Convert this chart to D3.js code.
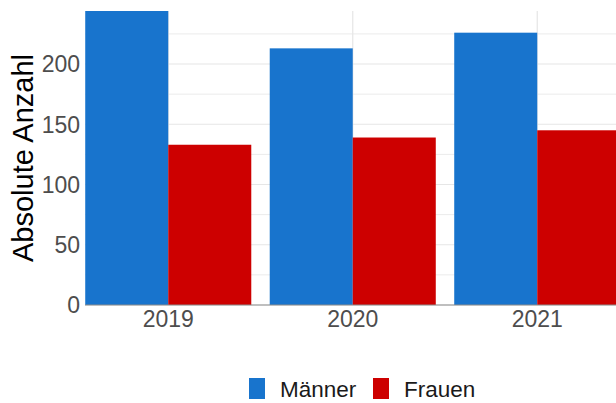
<!DOCTYPE html>
<html>
<head>
<meta charset="utf-8">
<script src="https://cdn.jsdelivr.net/npm/d3@7"></script>
<style>
  body { margin: 0; background: #fff; }
  svg { display: block; font-family: "Liberation Sans", Arial, sans-serif; }
</style>
</head>
<body>
<figure style="margin:0"></figure>
<script>
  // data
  const years = ["2019", "2020", "2021"]
  const groups = ["Männer", "Frauen"]
  const maenner = [244, 213, 226]
  const frauen = [133, 139, 145]
  const yTicks = [0, 50, 100, 150, 200]
  const yMinor = [25, 75, 125, 175, 225]
  const colors = ["#1874CD", "#CD0000"]

  const svgWidth = 616
  const svgHeight = 403

  const panel = { left: 85, right: 616, top: 11, bottom: 305 }

  const svg = d3.select('figure')
    .append('svg')
    .attr('width', svgWidth)
    .attr('height', svgHeight)

  const data = years.map((y, i) => ({ year: y, values: [maenner[i], frauen[i]] }))

  ////////// scales //////////
  const x = d3.scaleBand()
    .domain(years)
    .range([76, 629.5])
    .paddingInner(0.1)
    .paddingOuter(0.05)

  const xSub = d3.scaleBand()
    .domain(groups)
    .range([0, x.bandwidth()])

  const y = d3.scaleLinear()
    .domain([0, d3.max(maenner)])
    .range([panel.bottom, panel.top])

  const color = d3.scaleOrdinal().domain(groups).range(colors)

  ////////// grid //////////
  const grid = svg.append('g')
  grid.selectAll('.minor')
    .data(yMinor)
    .enter().append('line')
    .attr('x1', panel.left).attr('x2', panel.right)
    .attr('y1', d => y(d)).attr('y2', d => y(d))
    .attr('stroke', '#ebebeb').attr('stroke-width', 1)
  grid.selectAll('.major')
    .data(yTicks)
    .enter().append('line')
    .attr('x1', panel.left).attr('x2', panel.right)
    .attr('y1', d => y(d)).attr('y2', d => y(d))
    .attr('stroke', '#e6e6e6').attr('stroke-width', 1.2)
  grid.selectAll('.vgrid')
    .data(years)
    .enter().append('line')
    .attr('x1', d => x(d) + x.bandwidth() / 2).attr('x2', d => x(d) + x.bandwidth() / 2)
    .attr('y1', panel.top).attr('y2', panel.bottom)
    .attr('stroke', '#e6e6e6').attr('stroke-width', 1.2)

  ////////// bars //////////
  svg.append('g')
    .selectAll('g')
    .data(data)
    .enter().append('g')
    .attr('transform', d => `translate(${x(d.year)},0)`)
    .selectAll('rect')
    .data(d => d.values.map((v, i) => ({ key: groups[i], value: v })))
    .enter().append('rect')
    .attr('x', d => xSub(d.key))
    .attr('y', d => y(d.value))
    .attr('width', xSub.bandwidth())
    .attr('height', d => y(0) - y(d.value))
    .attr('fill', d => color(d.key))

  ////////// axes //////////
  svg.append('line')
    .attr('x1', panel.left).attr('x2', panel.right)
    .attr('y1', y(0)).attr('y2', y(0))
    .attr('stroke', '#8c8c8c').attr('stroke-width', 1.2)

  svg.append('g')
    .selectAll('text')
    .data(yTicks)
    .enter().append('text')
    .attr('x', 80)
    .attr('y', d => y(d))
    .attr('dy', '0.36em')
    .attr('text-anchor', 'end')
    .style('font-size', '23px')
    .style('fill', '#4d4d4d')
    .text(d => d)

  svg.append('g')
    .selectAll('text')
    .data(years)
    .enter().append('text')
    .attr('x', d => x(d) + x.bandwidth() / 2)
    .attr('y', 327)
    .attr('text-anchor', 'middle')
    .style('font-size', '23px')
    .style('fill', '#4d4d4d')
    .text(d => d)

  svg.append('text')
    .attr('transform', 'translate(33,158) rotate(-90)')
    .attr('text-anchor', 'middle')
    .style('font-size', '29px')
    .style('fill', '#000')
    .text('Absolute Anzahl')

  ////////// legend //////////
  const legendX = [249, 373]
  const legend = svg.append('g')
    .selectAll('g')
    .data(groups)
    .enter().append('g')
    .attr('transform', (d, i) => `translate(${legendX[i]},378)`)
  legend.append('rect')
    .attr('width', 16).attr('height', 21)
    .attr('fill', d => color(d))
  legend.append('text')
    .attr('x', 31)
    .attr('y', 19)
    .style('font-size', '22.5px')
    .style('fill', '#1a1a1a')
    .text(d => d)
</script>
</body>
</html>
